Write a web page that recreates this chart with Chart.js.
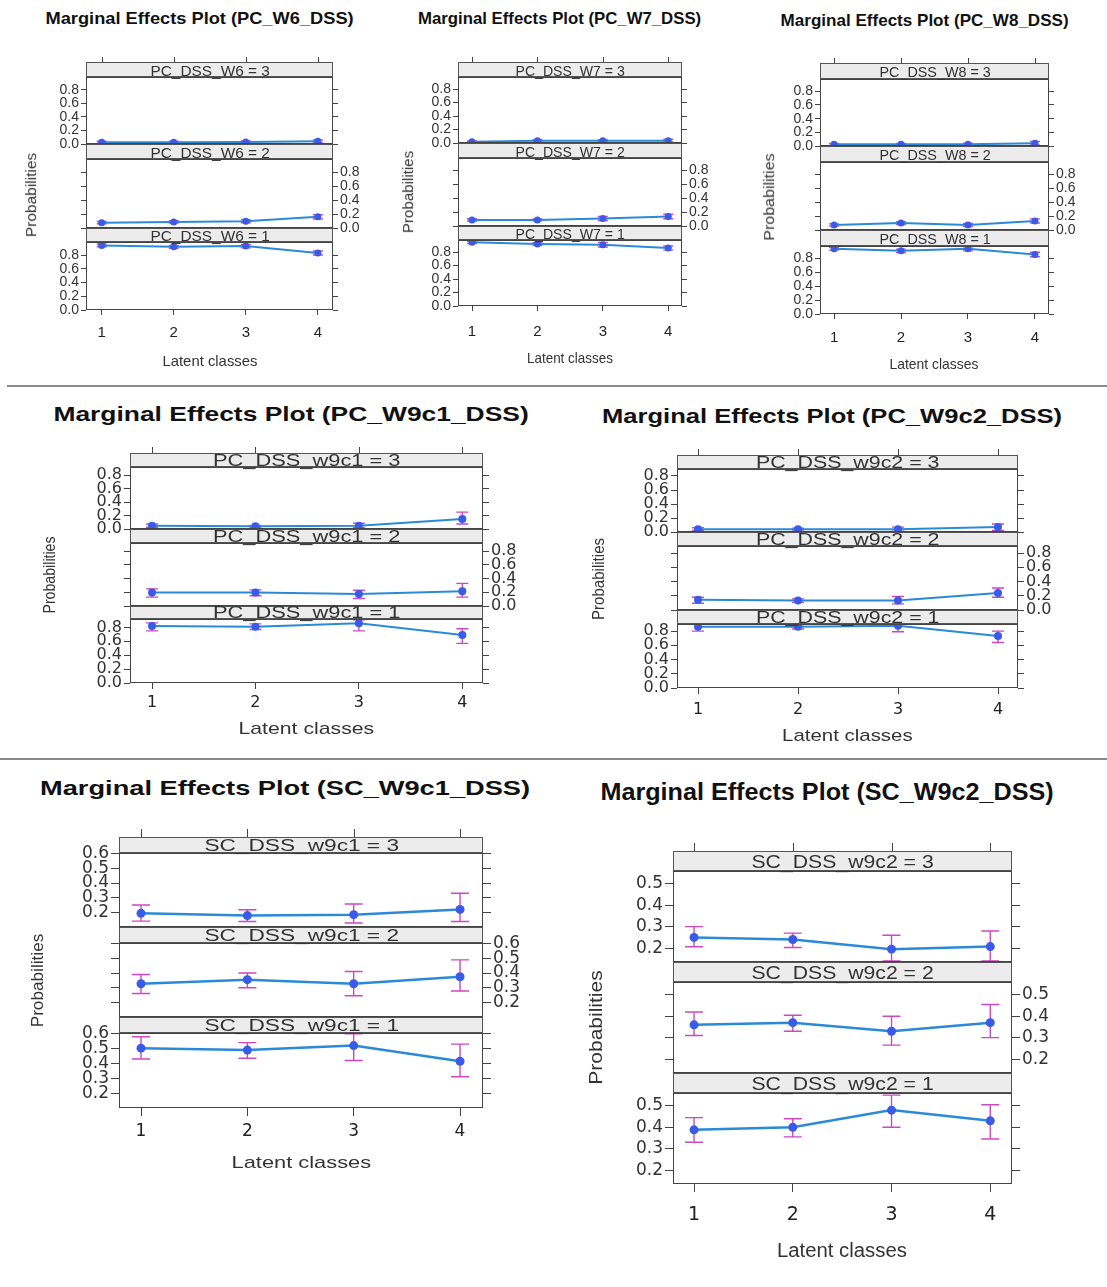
<!DOCTYPE html>
<html><head><meta charset="utf-8">
<script src="https://cdn.jsdelivr.net/npm/chart.js@4.4.1/dist/chart.umd.min.js"></script>
<style>
html,body{margin:0;padding:0;background:#fff;}
#root{position:relative;width:1107px;height:1287px;overflow:hidden;background:#fff;}
canvas{position:absolute;z-index:1;}
.t{position:absolute;white-space:nowrap;line-height:1;font-family:'Liberation Sans',Arial,sans-serif;color:#333;transform-origin:center center;z-index:3;}
.strip{position:absolute;box-sizing:border-box;border:1px solid #555;background:#ececec;z-index:2;}
.sep{position:absolute;height:2px;background:#8a8a8a;}
</style></head><body><div id="root"></div>
<script>
// ---------------- data ----------------
const classes = [1, 2, 3, 4];
const levels = [3, 2, 1];
const yTicks01 = [0, 0.2, 0.4, 0.6, 0.8];
const yTicksSC1 = [0.2, 0.3, 0.4, 0.5, 0.6];
const yTicksSC2 = [0.2, 0.3, 0.4, 0.5];

// PC_W6_DSS
const pcW6_L3 = [0.025, 0.025, 0.03, 0.04];
const pcW6_L3lo = [0.012, 0.012, 0.015, 0.02];
const pcW6_L3hi = [0.04, 0.04, 0.045, 0.06];
const pcW6_L2 = [0.077, 0.087, 0.096, 0.16];
const pcW6_L2lo = [0.06, 0.07, 0.075, 0.13];
const pcW6_L2hi = [0.095, 0.105, 0.12, 0.19];
const pcW6_L1 = [0.94, 0.92, 0.93, 0.83];
const pcW6_L1lo = [0.92, 0.9, 0.905, 0.8];
const pcW6_L1hi = [0.96, 0.94, 0.955, 0.86];

// PC_W7_DSS
const pcW7_L3 = [0.02, 0.035, 0.035, 0.035];
const pcW7_L3lo = [0.01, 0.022, 0.02, 0.015];
const pcW7_L3hi = [0.03, 0.048, 0.05, 0.055];
const pcW7_L2 = [0.088, 0.088, 0.108, 0.137];
const pcW7_L2lo = [0.072, 0.076, 0.08, 0.105];
const pcW7_L2hi = [0.104, 0.1, 0.136, 0.17];
const pcW7_L1 = [0.945, 0.92, 0.91, 0.86];
const pcW7_L1lo = [0.928, 0.9, 0.875, 0.83];
const pcW7_L1hi = [0.962, 0.94, 0.945, 0.89];

// PC_W8_DSS
const pcW8_L3 = [0.025, 0.025, 0.025, 0.04];
const pcW8_L3lo = [0.012, 0.012, 0.01, 0.015];
const pcW8_L3hi = [0.038, 0.038, 0.04, 0.065];
const pcW8_L2 = [0.072, 0.1, 0.072, 0.13];
const pcW8_L2lo = [0.056, 0.08, 0.05, 0.1];
const pcW8_L2hi = [0.088, 0.12, 0.095, 0.16];
const pcW8_L1 = [0.94, 0.91, 0.94, 0.857];
const pcW8_L1lo = [0.92, 0.885, 0.91, 0.825];
const pcW8_L1hi = [0.96, 0.935, 0.97, 0.89];

// PC_W9c1_DSS
const pcW9c1_L3 = [0.05, 0.04, 0.05, 0.147];
const pcW9c1_L3lo = [0.025, 0.027, 0.02, 0.075];
const pcW9c1_L3hi = [0.075, 0.053, 0.085, 0.25];
const pcW9c1_L2 = [0.196, 0.196, 0.176, 0.216];
const pcW9c1_L2lo = [0.13, 0.15, 0.11, 0.13];
const pcW9c1_L2hi = [0.25, 0.235, 0.23, 0.33];
const pcW9c1_L1 = [0.82, 0.81, 0.86, 0.69];
const pcW9c1_L1lo = [0.75, 0.77, 0.75, 0.57];
const pcW9c1_L1hi = [0.865, 0.85, 0.91, 0.78];

// PC_W9c2_DSS
const pcW9c2_L3 = [0.04, 0.04, 0.04, 0.07];
const pcW9c2_L3lo = [0.02, 0.027, 0.012, 0.022];
const pcW9c2_L3hi = [0.06, 0.053, 0.07, 0.115];
const pcW9c2_L2 = [0.143, 0.133, 0.133, 0.238];
const pcW9c2_L2lo = [0.095, 0.107, 0.086, 0.18];
const pcW9c2_L2hi = [0.18, 0.157, 0.19, 0.31];
const pcW9c2_L1 = [0.86, 0.86, 0.875, 0.73];
const pcW9c2_L1lo = [0.8, 0.83, 0.79, 0.64];
const pcW9c2_L1hi = [0.91, 0.89, 0.93, 0.8];

// SC_W9c1_DSS
const scW9c1_L3 = [0.193, 0.178, 0.184, 0.22];
const scW9c1_L3lo = [0.14, 0.138, 0.127, 0.138];
const scW9c1_L3hi = [0.25, 0.218, 0.257, 0.33];
const scW9c1_L2 = [0.327, 0.355, 0.327, 0.375];
const scW9c1_L2lo = [0.26, 0.3, 0.245, 0.277];
const scW9c1_L2hi = [0.39, 0.4, 0.41, 0.49];
const scW9c1_L1 = [0.503, 0.49, 0.52, 0.415];
const scW9c1_L1lo = [0.43, 0.435, 0.42, 0.31];
const scW9c1_L1hi = [0.58, 0.54, 0.6, 0.53];

// SC_W9c2_DSS
const scW9c2_L3 = [0.25, 0.24, 0.195, 0.207];
const scW9c2_L3lo = [0.206, 0.203, 0.14, 0.14];
const scW9c2_L3hi = [0.3, 0.27, 0.26, 0.28];
const scW9c2_L2 = [0.36, 0.37, 0.33, 0.37];
const scW9c2_L2lo = [0.31, 0.33, 0.265, 0.3];
const scW9c2_L2hi = [0.42, 0.405, 0.4, 0.455];
const scW9c2_L1 = [0.388, 0.4, 0.48, 0.43];
const scW9c2_L1lo = [0.33, 0.355, 0.4, 0.345];
const scW9c2_L1hi = [0.445, 0.44, 0.55, 0.505];

// ---------------- layout / style ----------------
const LINE_COLOR = '#2b8ad8';
const POINT_COLOR = '#3a5ae8';
const ERR_COLOR = '#cc48c0';
const AXIS_COLOR = '#444';

const PANELS = [
  {title:'Marginal Effects Plot (PC_W6_DSS)', strip:'PC_DSS_W6',
   est:[pcW6_L3,pcW6_L2,pcW6_L1], lo:[pcW6_L3lo,pcW6_L2lo,pcW6_L1lo], hi:[pcW6_L3hi,pcW6_L2hi,pcW6_L1hi],
   box:[86,333], ys:[62,77,144,159,228,242,310], xr:[0.782,4.21], yr:[0,0.99], yt:yTicks01,
   tick:5, fam:'Liberation Sans', yfs:14, xfs:15, xoff:23,
   tl:{x:199,y:18,s:17,w:308}, xl:{x:210,y:360,s:15,w:95}, yl:{x:31,y:195,s:14,w:84}, st:{s:15,w:119},
   cap:5, lw:2, pr:3.5},
  {title:'Marginal Effects Plot (PC_W7_DSS)', strip:'PC_DSS_W7',
   est:[pcW7_L3,pcW7_L2,pcW7_L1], lo:[pcW7_L3lo,pcW7_L2lo,pcW7_L1lo], hi:[pcW7_L3hi,pcW7_L2hi,pcW7_L1hi],
   box:[458,682], ys:[62,77,143,158,226,240,306], xr:[0.786,4.21], yr:[0,0.98], yt:yTicks01,
   tick:5, fam:'Liberation Sans', yfs:14, xfs:15, xoff:26,
   tl:{x:559,y:18,s:17,w:283}, xl:{x:570,y:357,s:15,w:86}, yl:{x:408,y:192,s:14,w:82}, st:{s:15,w:109},
   cap:5, lw:2, pr:3.5},
  {title:'Marginal Effects Plot (PC_W8_DSS)', strip:'PC_DSS_W8',
   est:[pcW8_L3,pcW8_L2,pcW8_L1], lo:[pcW8_L3lo,pcW8_L2lo,pcW8_L1lo], hi:[pcW8_L3hi,pcW8_L2hi,pcW8_L1hi],
   box:[820,1049], ys:[63,79,146,162,230,246,314], xr:[0.79,4.21], yr:[0,0.98], yt:yTicks01,
   tick:5, fam:'Liberation Sans', yfs:14, xfs:15, xoff:24,
   tl:{x:924,y:20,s:17,w:288}, xl:{x:934,y:363,s:15,w:89}, yl:{x:769,y:197,s:14,w:87}, st:{s:15,w:111},
   cap:5, lw:2, pr:3.5},
  {title:'Marginal Effects Plot (PC_W9c1_DSS)', strip:'PC_DSS_w9c1',
   est:[pcW9c1_L3,pcW9c1_L2,pcW9c1_L1], lo:[pcW9c1_L3lo,pcW9c1_L2lo,pcW9c1_L1lo], hi:[pcW9c1_L3hi,pcW9c1_L2hi,pcW9c1_L1hi],
   box:[130,483], ys:[453,467,529,543,606,619,683], xr:[0.787,4.2], yr:[0,0.92], yt:yTicks01,
   tick:6, fam:'DejaVu Sans', yfs:16, xfs:16, xoff:20,
   tl:{x:291,y:413,s:21,w:475}, xl:{x:306,y:728,s:17,w:136}, yl:{x:49,y:575,s:16,w:77}, st:{s:16,w:187},
   cap:6, lw:2, pr:4},
  {title:'Marginal Effects Plot (PC_W9c2_DSS)', strip:'PC_DSS_w9c2',
   est:[pcW9c2_L3,pcW9c2_L2,pcW9c2_L1], lo:[pcW9c2_L3lo,pcW9c2_L2lo,pcW9c2_L1lo], hi:[pcW9c2_L3hi,pcW9c2_L2hi,pcW9c2_L1hi],
   box:[677,1018], ys:[455,469,532,546,610,624,688], xr:[0.79,4.2], yr:[0,0.9], yt:yTicks01,
   tick:6, fam:'DejaVu Sans', yfs:16, xfs:16, xoff:22,
   tl:{x:832,y:415,s:21,w:460}, xl:{x:847,y:735,s:17,w:131}, yl:{x:598,y:579,s:16,w:82}, st:{s:16,w:183},
   cap:6, lw:2, pr:4},
  {title:'Marginal Effects Plot (SC_W9c1_DSS)', strip:'SC_DSS_w9c1',
   est:[scW9c1_L3,scW9c1_L2,scW9c1_L1], lo:[scW9c1_L3lo,scW9c1_L2lo,scW9c1_L1lo], hi:[scW9c1_L3hi,scW9c1_L2hi,scW9c1_L1hi],
   box:[119,483], ys:[837,853,927,943,1017,1033,1108], xr:[0.793,4.216], yr:[0.1,0.605], yt:yTicksSC1,
   tick:8, fam:'DejaVu Sans', yfs:17, xfs:17, xoff:24,
   tl:{x:285,y:787,s:21,w:490}, xl:{x:301,y:1162,s:17,w:140}, yl:{x:37,y:980,s:17,w:94}, st:{s:16,w:194},
   cap:9, lw:2.5, pr:4.5},
  {title:'Marginal Effects Plot (SC_W9c2_DSS)', strip:'SC_DSS_w9c2',
   est:[scW9c2_L3,scW9c2_L2,scW9c2_L1], lo:[scW9c2_L3lo,scW9c2_L2lo,scW9c2_L1lo], hi:[scW9c2_L3hi,scW9c2_L2hi,scW9c2_L1hi],
   box:[673,1012], ys:[851,871,962,982,1073,1093,1184], xr:[0.787,4.22], yr:[0.135,0.56], yt:yTicksSC2,
   tick:8, fam:'DejaVu Sans', yfs:17, xfs:19, xoff:31,
   tl:{x:827,y:792,s:24,w:453}, xl:{x:842,y:1250,s:20,w:130}, yl:{x:596,y:1027,s:19,w:115}, st:{s:19,w:182},
   cap:9, lw:2.5, pr:4.5}
];

const root = document.getElementById('root');

function addText(str, cx, cy, size, opt) {
  opt = opt || {};
  const d = document.createElement('div');
  d.className = 't';
  d.textContent = str;
  d.style.fontSize = size + 'px';
  if (opt.bold) d.style.fontWeight = 'bold';
  if (opt.color) d.style.color = opt.color;
  root.appendChild(d);
  const w = d.offsetWidth, h = d.offsetHeight;
  d.style.left = (cx - w / 2) + 'px';
  d.style.top = (cy - h / 2) + 'px';
  const sx = opt.width ? opt.width / w : 1;
  d.style.transform = (opt.rot ? 'rotate(-90deg) ' : '') + 'scaleX(' + sx.toFixed(3) + ')';
}

function addDiv(cls, l, t, w, h) {
  const d = document.createElement('div');
  d.className = cls;
  d.style.left = l + 'px'; d.style.top = t + 'px';
  d.style.width = w + 'px'; d.style.height = h + 'px';
  root.appendChild(d);
}

// separators
addDiv('sep', 7, 385, 1100, 2);
addDiv('sep', 0, 758, 1107, 2);

const errPlugin = {
  id: 'errbars',
  beforeDatasetsDraw(chart) {
    const ctx = chart.ctx, xs = chart.scales.x, ys = chart.scales.y;
    chart.data.datasets.forEach(ds => {
      ctx.save();
      ctx.strokeStyle = ERR_COLOR;
      ctx.lineWidth = 1.4;
      ds.lo.forEach((lo, i) => {
        const x = xs.getPixelForValue(ds.data[i].x);
        const y1 = ys.getPixelForValue(lo), y2 = ys.getPixelForValue(ds.hi[i]);
        ctx.beginPath();
        ctx.moveTo(x, y1); ctx.lineTo(x, y2);
        ctx.moveTo(x - ds.cap, y1); ctx.lineTo(x + ds.cap, y1);
        ctx.moveTo(x - ds.cap, y2); ctx.lineTo(x + ds.cap, y2);
        ctx.stroke();
      });
      ctx.restore();
    });
  }
};

const framePlugin = {
  id: 'frame',
  afterDraw(chart, args, o) {
    const {ctx, chartArea: a} = chart;
    ctx.save();
    ctx.strokeStyle = AXIS_COLOR;
    ctx.lineWidth = 1;
    ctx.strokeRect(Math.round(a.left) + 0.5, Math.round(a.top) + 0.5,
      Math.round(a.right - a.left) - 1, Math.round(a.bottom - a.top) - 1);
    if (o.topTicks) {
      const xs = chart.scales.x;
      const y0 = Math.round(a.top) - o.stripH;
      ctx.beginPath();
      classes.forEach(c => {
        const x = Math.round(xs.getPixelForValue(c)) + 0.5;
        ctx.moveTo(x, y0); ctx.lineTo(x, y0 - o.tick);
      });
      ctx.stroke();
    }
    ctx.restore();
  }
};

function makeSub(P, k) {
  const Y = P.ys;
  const dTop = [Y[1], Y[3], Y[5]][k], dBot = [Y[2], Y[4], Y[6]][k];
  const L = 50, R = 50, PADV = 14;
  const stripH = Y[1] - Y[0];
  const T = k === 0 ? stripH + P.tick + 3 : PADV;
  const B = k === 2 ? P.xoff + P.xfs : PADV;
  const W = L + (P.box[1] - P.box[0]) + R;
  const H = T + (dBot - dTop) + B;
  const cv = document.createElement('canvas');
  cv.width = W; cv.height = H;
  cv.style.width = W + 'px'; cv.style.height = H + 'px';
  cv.style.left = (P.box[0] - L) + 'px';
  cv.style.top = (dTop - T) + 'px';
  root.appendChild(cv);

  const leftLabels = k !== 1, rightLabels = k === 1;
  const yCommon = (showLabels, width) => ({
    type: 'linear', min: P.yr[0], max: P.yr[1],
    afterBuildTicks: s => { s.ticks = P.yt.map(v => ({value: v})); },
    afterFit: s => { s.width = width; s.paddingTop = 0; s.paddingBottom = 0; },
    ticks: {autoSkip: false, padding: 2, color: '#333',
      font: {family: P.fam, size: P.yfs, lineHeight: 1},
      callback: v => showLabels ? Number(v).toFixed(1) : ''},
    grid: {drawOnChartArea: false, drawTicks: true, tickLength: P.tick, color: AXIS_COLOR, lineWidth: 1},
    border: {display: false}
  });
  const xScale = {
    type: 'linear', min: P.xr[0], max: P.xr[1], display: k === 2, position: 'bottom',
    afterBuildTicks: s => { s.ticks = classes.map(v => ({value: v})); },
    ticks: {autoSkip: false, maxRotation: 0, color: '#222',
      padding: Math.max(0, P.xoff - P.tick - 0.5 * P.xfs),
      font: {family: P.fam, size: P.xfs, lineHeight: 1},
      callback: v => String(v)},
    grid: {drawOnChartArea: false, drawTicks: true, tickLength: P.tick, color: AXIS_COLOR, lineWidth: 1},
    border: {display: false}
  };
  if (k === 2) xScale.afterFit = s => { s.height = B; s.paddingLeft = 0; s.paddingRight = 0; };

  new Chart(cv, {
    type: 'line',
    data: {
      datasets: [{
        data: classes.map((c, i) => ({x: c, y: P.est[k][i]})),
        lo: P.lo[k], hi: P.hi[k], cap: P.cap,
        borderColor: LINE_COLOR, borderWidth: P.lw,
        pointRadius: P.pr, pointBackgroundColor: POINT_COLOR, pointBorderWidth: 0,
        pointHoverRadius: P.pr, tension: 0, fill: false, yAxisID: 'y', xAxisID: 'x'
      }]
    },
    options: {
      responsive: false, animation: false, devicePixelRatio: 1, events: [],
      layout: {padding: {top: T, bottom: k === 2 ? 0 : B, left: 0, right: 0}},
      plugins: {legend: {display: false}, tooltip: {enabled: false}, title: {display: false},
        frame: {topTicks: k === 0, stripH: stripH, tick: P.tick}},
      scales: {
        x: xScale,
        y: Object.assign(yCommon(leftLabels, L), {position: 'left'}),
        y2: Object.assign(yCommon(rightLabels, R), {position: 'right'})
      }
    },
    plugins: [errPlugin, framePlugin]
  });
}

PANELS.forEach(P => {
  const Y = P.ys;
  [[Y[0], Y[1]], [Y[2], Y[3]], [Y[4], Y[5]]].forEach((s, i) => {
    addDiv('strip', P.box[0], s[0], P.box[1] - P.box[0], s[1] - s[0]);
    addText(P.strip + ' = ' + levels[i], (P.box[0] + P.box[1]) / 2, (s[0] + s[1]) / 2 + 0.5, P.st.s, {width: P.st.w});
  });
  for (let k = 0; k < 3; k++) makeSub(P, k);
  addText(P.title, P.tl.x, P.tl.y, P.tl.s, {bold: true, color: '#111', width: P.tl.w});
  addText('Latent classes', P.xl.x, P.xl.y, P.xl.s, {width: P.xl.w});
  addText('Probabilities', P.yl.x, P.yl.y, P.yl.s, {width: P.yl.w, rot: true});
});
</script>
</body></html>
